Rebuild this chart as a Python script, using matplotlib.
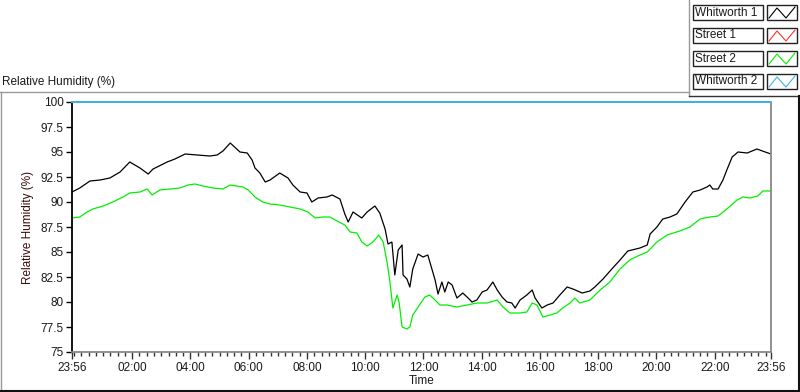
import matplotlib
matplotlib.use("Agg")
import matplotlib.pyplot as plt
from matplotlib.lines import Line2D
from matplotlib.patches import Rectangle

# minutes elapsed since 23:56
w1_t = [0, 16, 37, 58, 78, 99, 119, 140, 157, 167, 196, 212, 233, 258, 284, 299, 311, 326,
        346, 361, 371, 377, 387, 398, 408, 428, 445, 455, 470, 484, 494, 507, 525, 536, 552,
        562, 569, 579, 597, 608, 624, 634, 645, 651, 659, 665, 672, 680, 682, 690, 696, 702,
        713, 723, 733, 742, 748, 754, 762, 768, 775, 783, 793, 805, 816, 824, 834, 845, 855,
        867, 876, 886, 896, 906, 913, 923, 937, 948, 954, 968, 979, 991, 1005, 1020, 1032,
        1051, 1067, 1077, 1094, 1112, 1129, 1145, 1170, 1185, 1191, 1205, 1217, 1232, 1246,
        1263, 1279, 1294, 1308, 1314, 1320, 1331, 1341, 1349, 1360, 1372, 1391, 1411, 1428, 1440]
w1_rh = [91.0, 91.4, 92.1, 92.2, 92.4, 93.0, 94.0, 93.4, 92.8, 93.3, 94.0, 94.3, 94.8, 94.7,
         94.6, 94.7, 95.1, 95.9, 95.0, 94.9, 94.2, 93.4, 92.9, 92.0, 92.2, 92.9, 92.4, 91.7,
         91.0, 90.9, 90.0, 90.4, 90.5, 90.7, 90.3, 88.8, 88.0, 89.0, 88.4, 89.0, 89.6, 88.9,
         87.3, 85.8, 86.0, 82.7, 85.2, 85.7, 82.7, 82.3, 81.5, 83.3, 84.8, 84.5, 84.7, 83.2,
         82.2, 80.8, 82.0, 81.0, 82.0, 81.7, 80.4, 80.9, 80.4, 80.0, 80.2, 81.0, 81.2, 82.0,
         81.2, 80.5, 80.0, 79.9, 79.4, 80.2, 80.7, 81.2, 80.4, 79.4, 79.7, 79.9, 80.7, 81.5,
         81.3, 80.9, 81.1, 81.5, 82.3, 83.3, 84.2, 85.1, 85.4, 85.7, 86.8, 87.5, 88.3, 88.5,
         88.8, 90.0, 91.0, 91.2, 91.5, 91.7, 91.3, 91.3, 92.2, 93.2, 94.5, 95.0, 94.9, 95.3,
         95.0, 94.8]

s2_t = [0, 16, 31, 43, 64, 84, 105, 119, 140, 155, 165, 181, 202, 222, 239, 253, 270, 290,
        311, 326, 352, 363, 377, 393, 408, 428, 449, 470, 486, 501, 517, 531, 546, 562, 573,
        587, 597, 608, 620, 632, 641, 649, 655, 661, 670, 674, 680, 690, 696, 702, 713, 727,
        737, 748, 758, 773, 793, 814, 834, 855, 876, 888, 902, 923, 937, 948, 958, 970, 985,
        999, 1011, 1026, 1036, 1046, 1067, 1088, 1108, 1129, 1149, 1170, 1185, 1205, 1226,
        1252, 1273, 1294, 1314, 1331, 1349, 1370, 1382, 1397, 1413, 1423, 1440]
s2_rh = [88.4, 88.5, 89.0, 89.3, 89.6, 90.0, 90.5, 90.9, 91.0, 91.3, 90.7, 91.2, 91.3, 91.4,
         91.7, 91.8, 91.6, 91.4, 91.3, 91.7, 91.5, 91.2, 90.5, 90.0, 89.8, 89.7, 89.5, 89.3,
         89.0, 88.4, 88.5, 88.5, 88.1, 87.7, 87.0, 86.9, 86.0, 85.6, 86.0, 86.7, 86.0, 84.0,
         82.0, 79.4, 80.7, 79.9, 77.5, 77.3, 77.5, 78.7, 79.5, 80.5, 80.7, 80.2, 79.7, 79.7,
         79.5, 79.7, 79.9, 79.9, 80.2, 79.5, 78.9, 78.9, 79.0, 79.9, 79.7, 78.5, 78.7, 78.9,
         79.4, 79.9, 80.4, 79.9, 80.2, 81.2, 82.0, 83.3, 84.2, 84.7, 85.0, 86.0, 86.7, 87.1,
         87.5, 88.3, 88.5, 88.6, 89.3, 90.2, 90.5, 90.4, 90.6, 91.1, 91.1]

s1_t = []
s1_rh = []

w2_t = [0, 1440]
w2_rh = [100.0, 100.0]

names = ["Whitworth 1", "Street 1", "Street 2", "Whitworth 2"]
colors = ["#000000", "#ff3030", "#00f000", "#3cb4e6"]

major_t = [0, 124, 244, 364, 484, 604, 724, 844, 964, 1084, 1204, 1324, 1440]
major_lbl = ["23:56", "02:00", "04:00", "06:00", "08:00", "10:00", "12:00",
             "14:00", "16:00", "18:00", "20:00", "22:00", "23:56"]
y_ticks = [75, 77.5, 80, 82.5, 85, 87.5, 90, 92.5, 95, 97.5, 100]

W, H = 800, 392
plt.rcParams["font.family"] = ["Liberation Sans", "DejaVu Sans"]
fig = plt.figure(figsize=(W / 100, H / 100), dpi=100)
fig.patch.set_facecolor("white")
txt = "#1a1a1a"
fs = 8.5


def px(x, y):
    return x / W, 1 - y / H


ax = fig.add_axes([72 / W, 1 - 352 / H, (771 - 72) / W, (352 - 102) / H])
ax.plot(w1_t, w1_rh, color=colors[0], lw=0.9)
ax.plot(s1_t, s1_rh, color=colors[1], lw=0.9)
ax.plot(s2_t, s2_rh, color=colors[2], lw=0.9)
ax.plot(w2_t, w2_rh, color=colors[3], lw=1.4, clip_on=False, zorder=5)

ax.set_xlim(0, 1440)
ax.set_ylim(75, 100)
ax.set_yticks(y_ticks)
ax.set_yticklabels(["%g" % v for v in y_ticks], fontsize=fs, color=txt)
ax.set_xticks(major_t)
ax.set_xticklabels(major_lbl, fontsize=fs, color=txt)
ax.set_xticks([4 + 15 * k for k in range(96)], minor=True)
ax.tick_params(axis="y", length=4, width=1, pad=2)
ax.tick_params(axis="x", which="major", length=5, width=1, pad=2, colors="#333333",
               labelcolor=txt)
ax.tick_params(axis="x", which="minor", length=3, width=1, colors="#333333")
ax.set_xlabel("Time", fontsize=fs, color=txt, labelpad=1)
ax.set_ylabel("Relative Humidity (%)", fontsize=fs, color="#3a0a0a", labelpad=5)
ax.spines["left"].set_color("black")
ax.spines["left"].set_linewidth(1.3)
for s in ["bottom", "right", "top"]:
    ax.spines[s].set_color("#888888")
    ax.spines[s].set_linewidth(1.3)

# outer frame
fig.add_artist(Line2D(*zip(px(0, 92), px(689, 92)), transform=fig.transFigure,
                      color="#999999", lw=1))
fig.add_artist(Line2D(*zip(px(689, 0), px(689, 96)), transform=fig.transFigure,
                      color="#999999", lw=1))
fig.add_artist(Line2D(*zip(px(689, 96), px(800, 96)), transform=fig.transFigure,
                      color="#333333", lw=1))
fig.add_artist(Line2D(*zip(px(1, 92), px(1, 391)), transform=fig.transFigure,
                      color="#999999", lw=1))
fig.add_artist(Line2D(*zip(px(0, 390.5), px(800, 390.5)), transform=fig.transFigure,
                      color="#111111", lw=1.5))
fig.add_artist(Line2D(*zip(px(799, 96), px(799, 391)), transform=fig.transFigure,
                      color="#111111", lw=1.5))

fig.text(*px(2, 82), "Relative Humidity (%)", fontsize=fs, color=txt, va="center", ha="left")

# legend rows
row_top = [5, 28, 51, 74]
for name, col, y0 in zip(names, colors, row_top):
    x0, y1 = px(693, y0 + 15)
    w, h = 70 / W, 15 / H
    fig.add_artist(Rectangle((x0, y1), w, h, transform=fig.transFigure,
                             fill=False, ec="#222222", lw=1))
    fig.text(*px(695, y0 + 7.5), name, fontsize=fs, color=txt, va="center", ha="left")
    sx0, sy1 = px(767, y0 + 15)
    fig.add_artist(Rectangle((sx0, sy1), 30 / W, h, transform=fig.transFigure,
                             fill=False, ec="#222222", lw=1))
    zx = [769, 777, 786, 795]
    zy = [y0 + 13, y0 + 3, y0 + 13, y0 + 2]
    pts = [px(a, b) for a, b in zip(zx, zy)]
    fig.add_artist(Line2D([p[0] for p in pts], [p[1] for p in pts],
                          transform=fig.transFigure, color=col, lw=0.8))

fig.savefig("out.png", dpi=100)
